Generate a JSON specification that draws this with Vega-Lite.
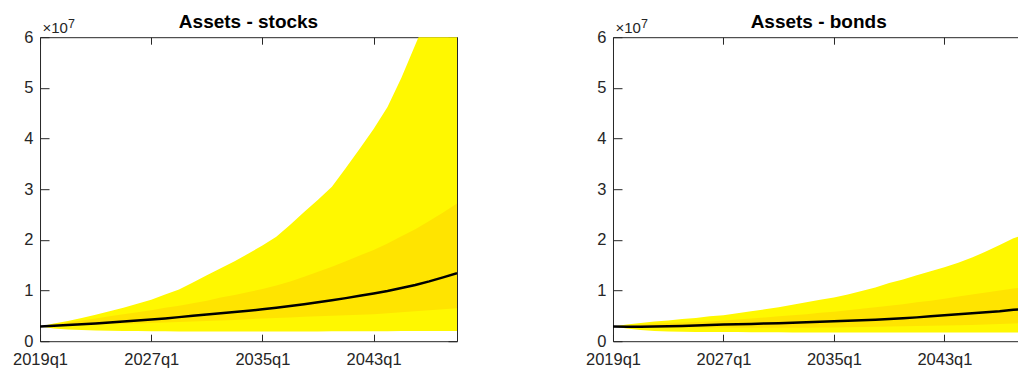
{
  "$schema": "https://vega.github.io/schema/vega-lite/v6.json",
  "padding": {"left": 0, "top": 13.2, "right": 0, "bottom": 0},
  "background": "white",
  "config": {
    "view": {"stroke": null},
    "font": "Liberation Sans",
    "axis": {
      "grid": false,
      "labelFont": "Liberation Sans",
      "labelFontSize": 16.5,
      "labelColor": "#262626",
      "domainColor": "#262626",
      "tickColor": "#262626",
      "domainWidth": 1,
      "tickWidth": 1,
      "labelFlush": false,
      "labelOverlap": false
    },
    "title": {"font": "Liberation Sans", "fontSize": 19, "fontWeight": "bold", "color": "#000000", "anchor": "middle", "frame": "group", "baseline": "alphabetic", "offset": -15}
  },
  "datasets": {
    "stocks": [
      {"t": 2019, "lo90": 0.29e7, "lo50": 0.29e7, "med": 0.29e7, "hi50": 0.29e7, "hi90": 0.29e7},
      {"t": 2020, "lo90": 0.25e7, "lo50": 0.30e7, "med": 0.305e7, "hi50": 0.33e7, "hi90": 0.35e7},
      {"t": 2021, "lo90": 0.23e7, "lo50": 0.31e7, "med": 0.32e7, "hi50": 0.37e7, "hi90": 0.40e7},
      {"t": 2022, "lo90": 0.22e7, "lo50": 0.32e7, "med": 0.335e7, "hi50": 0.41e7, "hi90": 0.46e7},
      {"t": 2023, "lo90": 0.21e7, "lo50": 0.33e7, "med": 0.35e7, "hi50": 0.45e7, "hi90": 0.52e7},
      {"t": 2024, "lo90": 0.205e7, "lo50": 0.34e7, "med": 0.37e7, "hi50": 0.49e7, "hi90": 0.59e7},
      {"t": 2025, "lo90": 0.20e7, "lo50": 0.345e7, "med": 0.39e7, "hi50": 0.53e7, "hi90": 0.66e7},
      {"t": 2026, "lo90": 0.20e7, "lo50": 0.35e7, "med": 0.41e7, "hi50": 0.57e7, "hi90": 0.74e7},
      {"t": 2027, "lo90": 0.195e7, "lo50": 0.36e7, "med": 0.43e7, "hi50": 0.61e7, "hi90": 0.82e7},
      {"t": 2028, "lo90": 0.195e7, "lo50": 0.37e7, "med": 0.45e7, "hi50": 0.66e7, "hi90": 0.92e7},
      {"t": 2029, "lo90": 0.19e7, "lo50": 0.38e7, "med": 0.475e7, "hi50": 0.70e7, "hi90": 1.02e7},
      {"t": 2030, "lo90": 0.19e7, "lo50": 0.39e7, "med": 0.50e7, "hi50": 0.75e7, "hi90": 1.16e7},
      {"t": 2031, "lo90": 0.19e7, "lo50": 0.40e7, "med": 0.525e7, "hi50": 0.80e7, "hi90": 1.30e7},
      {"t": 2032, "lo90": 0.19e7, "lo50": 0.41e7, "med": 0.55e7, "hi50": 0.86e7, "hi90": 1.44e7},
      {"t": 2033, "lo90": 0.19e7, "lo50": 0.42e7, "med": 0.575e7, "hi50": 0.91e7, "hi90": 1.58e7},
      {"t": 2034, "lo90": 0.19e7, "lo50": 0.435e7, "med": 0.60e7, "hi50": 0.97e7, "hi90": 1.73e7},
      {"t": 2035, "lo90": 0.19e7, "lo50": 0.45e7, "med": 0.63e7, "hi50": 1.03e7, "hi90": 1.89e7},
      {"t": 2036, "lo90": 0.19e7, "lo50": 0.46e7, "med": 0.66e7, "hi50": 1.10e7, "hi90": 2.06e7},
      {"t": 2037, "lo90": 0.19e7, "lo50": 0.47e7, "med": 0.695e7, "hi50": 1.18e7, "hi90": 2.30e7},
      {"t": 2038, "lo90": 0.19e7, "lo50": 0.48e7, "med": 0.73e7, "hi50": 1.27e7, "hi90": 2.55e7},
      {"t": 2039, "lo90": 0.19e7, "lo50": 0.49e7, "med": 0.77e7, "hi50": 1.37e7, "hi90": 2.79e7},
      {"t": 2040, "lo90": 0.195e7, "lo50": 0.50e7, "med": 0.81e7, "hi50": 1.47e7, "hi90": 3.05e7},
      {"t": 2041, "lo90": 0.195e7, "lo50": 0.51e7, "med": 0.85e7, "hi50": 1.58e7, "hi90": 3.42e7},
      {"t": 2042, "lo90": 0.195e7, "lo50": 0.52e7, "med": 0.895e7, "hi50": 1.69e7, "hi90": 3.80e7},
      {"t": 2043, "lo90": 0.195e7, "lo50": 0.53e7, "med": 0.94e7, "hi50": 1.80e7, "hi90": 4.19e7},
      {"t": 2044, "lo90": 0.195e7, "lo50": 0.55e7, "med": 0.99e7, "hi50": 1.93e7, "hi90": 4.62e7},
      {"t": 2045, "lo90": 0.20e7, "lo50": 0.57e7, "med": 1.05e7, "hi50": 2.07e7, "hi90": 5.20e7},
      {"t": 2046, "lo90": 0.20e7, "lo50": 0.59e7, "med": 1.11e7, "hi50": 2.21e7, "hi90": 5.85e7},
      {"t": 2047, "lo90": 0.20e7, "lo50": 0.61e7, "med": 1.18e7, "hi50": 2.37e7, "hi90": 6.5e7},
      {"t": 2048, "lo90": 0.20e7, "lo50": 0.63e7, "med": 1.26e7, "hi50": 2.54e7, "hi90": 7.2e7},
      {"t": 2049, "lo90": 0.20e7, "lo50": 0.65e7, "med": 1.34e7, "hi50": 2.72e7, "hi90": 8.0e7}
    ],
    "bonds": [
      {"t": 2019, "lo90": 0.29e7, "lo50": 0.29e7, "med": 0.29e7, "hi50": 0.29e7, "hi90": 0.29e7},
      {"t": 2020, "lo90": 0.25e7, "lo50": 0.28e7, "med": 0.285e7, "hi50": 0.31e7, "hi90": 0.33e7},
      {"t": 2021, "lo90": 0.22e7, "lo50": 0.275e7, "med": 0.285e7, "hi50": 0.33e7, "hi90": 0.36e7},
      {"t": 2022, "lo90": 0.20e7, "lo50": 0.27e7, "med": 0.29e7, "hi50": 0.35e7, "hi90": 0.39e7},
      {"t": 2023, "lo90": 0.19e7, "lo50": 0.27e7, "med": 0.295e7, "hi50": 0.36e7, "hi90": 0.41e7},
      {"t": 2024, "lo90": 0.185e7, "lo50": 0.27e7, "med": 0.30e7, "hi50": 0.37e7, "hi90": 0.44e7},
      {"t": 2025, "lo90": 0.18e7, "lo50": 0.27e7, "med": 0.31e7, "hi50": 0.38e7, "hi90": 0.46e7},
      {"t": 2026, "lo90": 0.18e7, "lo50": 0.27e7, "med": 0.32e7, "hi50": 0.39e7, "hi90": 0.49e7},
      {"t": 2027, "lo90": 0.18e7, "lo50": 0.27e7, "med": 0.33e7, "hi50": 0.41e7, "hi90": 0.51e7},
      {"t": 2028, "lo90": 0.18e7, "lo50": 0.265e7, "med": 0.335e7, "hi50": 0.43e7, "hi90": 0.55e7},
      {"t": 2029, "lo90": 0.175e7, "lo50": 0.265e7, "med": 0.34e7, "hi50": 0.45e7, "hi90": 0.59e7},
      {"t": 2030, "lo90": 0.175e7, "lo50": 0.265e7, "med": 0.35e7, "hi50": 0.47e7, "hi90": 0.63e7},
      {"t": 2031, "lo90": 0.175e7, "lo50": 0.265e7, "med": 0.355e7, "hi50": 0.49e7, "hi90": 0.67e7},
      {"t": 2032, "lo90": 0.17e7, "lo50": 0.265e7, "med": 0.365e7, "hi50": 0.51e7, "hi90": 0.72e7},
      {"t": 2033, "lo90": 0.17e7, "lo50": 0.265e7, "med": 0.375e7, "hi50": 0.53e7, "hi90": 0.77e7},
      {"t": 2034, "lo90": 0.17e7, "lo50": 0.27e7, "med": 0.385e7, "hi50": 0.56e7, "hi90": 0.82e7},
      {"t": 2035, "lo90": 0.17e7, "lo50": 0.27e7, "med": 0.395e7, "hi50": 0.58e7, "hi90": 0.86e7},
      {"t": 2036, "lo90": 0.17e7, "lo50": 0.275e7, "med": 0.405e7, "hi50": 0.61e7, "hi90": 0.92e7},
      {"t": 2037, "lo90": 0.17e7, "lo50": 0.28e7, "med": 0.415e7, "hi50": 0.64e7, "hi90": 0.99e7},
      {"t": 2038, "lo90": 0.17e7, "lo50": 0.285e7, "med": 0.425e7, "hi50": 0.67e7, "hi90": 1.06e7},
      {"t": 2039, "lo90": 0.17e7, "lo50": 0.29e7, "med": 0.44e7, "hi50": 0.70e7, "hi90": 1.15e7},
      {"t": 2040, "lo90": 0.17e7, "lo50": 0.295e7, "med": 0.455e7, "hi50": 0.73e7, "hi90": 1.22e7},
      {"t": 2041, "lo90": 0.17e7, "lo50": 0.30e7, "med": 0.47e7, "hi50": 0.77e7, "hi90": 1.30e7},
      {"t": 2042, "lo90": 0.17e7, "lo50": 0.305e7, "med": 0.49e7, "hi50": 0.80e7, "hi90": 1.38e7},
      {"t": 2043, "lo90": 0.17e7, "lo50": 0.31e7, "med": 0.51e7, "hi50": 0.84e7, "hi90": 1.46e7},
      {"t": 2044, "lo90": 0.17e7, "lo50": 0.315e7, "med": 0.53e7, "hi50": 0.88e7, "hi90": 1.55e7},
      {"t": 2045, "lo90": 0.17e7, "lo50": 0.32e7, "med": 0.55e7, "hi50": 0.92e7, "hi90": 1.65e7},
      {"t": 2046, "lo90": 0.17e7, "lo50": 0.33e7, "med": 0.57e7, "hi50": 0.96e7, "hi90": 1.77e7},
      {"t": 2047, "lo90": 0.17e7, "lo50": 0.34e7, "med": 0.59e7, "hi50": 1.00e7, "hi90": 1.90e7},
      {"t": 2048, "lo90": 0.17e7, "lo50": 0.35e7, "med": 0.62e7, "hi50": 1.04e7, "hi90": 2.03e7},
      {"t": 2049, "lo90": 0.17e7, "lo50": 0.355e7, "med": 0.64e7, "hi50": 1.07e7, "hi90": 2.12e7}
    ]
  },
  "spacing": 115,
  "hconcat": [
    {
      "width": 417,
      "height": 304,
      "title": {"text": "Assets - stocks"},
      "data": {"name": "stocks"},
      "layer": [
        {
          "mark": {"type": "area", "color": "#FFF800", "clip": true},
          "encoding": {
            "x": {"field": "t", "type": "quantitative", "scale": {"domain": [2019, 2049], "nice": false, "zero": false},
              "axis": {"orient": "bottom", "values": [2019, 2027, 2035, 2043], "labelExpr": "datum.value + 'q1'", "tickSize": -7, "labelPadding": 17, "title": null}},
            "y": {"field": "lo90", "type": "quantitative", "scale": {"domain": [0, 60000000], "nice": false},
              "axis": {"orient": "left", "values": [0, 10000000, 20000000, 30000000, 40000000, 50000000, 60000000], "labelExpr": "'' + (datum.value / 10000000)", "tickSize": -9, "labelPadding": 16, "minExtent": 40, "maxExtent": 40,
                "title": "×10", "titleAngle": 0, "titleAlign": "left", "titleBaseline": "alphabetic", "titleX": 2, "titleY": -4.5, "titleFontSize": 15, "titleFontWeight": "normal", "titleColor": "#262626", "titleFont": "Liberation Sans"}},
            "y2": {"field": "hi90"}
          }
        },
        {
          "mark": {"type": "area", "color": "#FFE400", "clip": true},
          "encoding": {
            "x": {"field": "t", "type": "quantitative",
              "axis": {"orient": "top", "values": [2019, 2027, 2035, 2043], "labels": false, "tickSize": -7, "minExtent": 0, "maxExtent": 0,
                "title": "7", "titleAngle": 0, "titleAlign": "left", "titleBaseline": "alphabetic", "titleX": 27.5, "titleY": -10, "titleFontSize": 12.5, "titleFontWeight": "normal", "titleColor": "#262626", "titleFont": "Liberation Sans"}},
            "y": {"field": "lo50", "type": "quantitative",
              "axis": {"orient": "right", "values": [0, 10000000, 20000000, 30000000, 40000000, 50000000, 60000000], "labels": false, "tickSize": -9, "title": null, "minExtent": 0, "maxExtent": 0}},
            "y2": {"field": "hi50"}
          }
        },
        {
          "mark": {"type": "line", "color": "#000000", "strokeWidth": 2.5, "clip": true},
          "encoding": {
            "x": {"field": "t", "type": "quantitative", "axis": null},
            "y": {"field": "med", "type": "quantitative", "axis": null}
          }
        }
      ],
      "resolve": {"axis": {"x": "independent", "y": "independent"}}
    },
    {
      "width": 406,
      "height": 304,
      "title": {"text": "Assets - bonds", "dx": 2.7},
      "data": {"name": "bonds"},
      "layer": [
        {
          "mark": {"type": "area", "color": "#FFF800", "clip": true},
          "encoding": {
            "x": {"field": "t", "type": "quantitative", "scale": {"domain": [2019, 2048.4], "nice": false, "zero": false},
              "axis": {"orient": "bottom", "values": [2019, 2027, 2035, 2043], "labelExpr": "datum.value + 'q1'", "tickSize": -7, "labelPadding": 17, "title": null}},
            "y": {"field": "lo90", "type": "quantitative", "scale": {"domain": [0, 60000000], "nice": false},
              "axis": {"orient": "left", "values": [0, 10000000, 20000000, 30000000, 40000000, 50000000, 60000000], "labelExpr": "'' + (datum.value / 10000000)", "tickSize": -9, "labelPadding": 16, "minExtent": 40, "maxExtent": 40,
                "title": "×10", "titleAngle": 0, "titleAlign": "left", "titleBaseline": "alphabetic", "titleX": 2, "titleY": -4.5, "titleFontSize": 15, "titleFontWeight": "normal", "titleColor": "#262626", "titleFont": "Liberation Sans"}},
            "y2": {"field": "hi90"}
          }
        },
        {
          "mark": {"type": "area", "color": "#FFE400", "clip": true},
          "encoding": {
            "x": {"field": "t", "type": "quantitative",
              "axis": {"orient": "top", "values": [2019, 2027, 2035, 2043], "labels": false, "tickSize": -7, "minExtent": 0, "maxExtent": 0,
                "title": "7", "titleAngle": 0, "titleAlign": "left", "titleBaseline": "alphabetic", "titleX": 27.5, "titleY": -10, "titleFontSize": 12.5, "titleFontWeight": "normal", "titleColor": "#262626", "titleFont": "Liberation Sans"}},
            "y": {"field": "lo50", "type": "quantitative", "axis": null},
            "y2": {"field": "hi50"}
          }
        },
        {
          "mark": {"type": "line", "color": "#000000", "strokeWidth": 2.5, "clip": true},
          "encoding": {
            "x": {"field": "t", "type": "quantitative", "axis": null},
            "y": {"field": "med", "type": "quantitative", "axis": null}
          }
        }
      ],
      "resolve": {"axis": {"x": "independent", "y": "independent"}}
    }
  ]
}
